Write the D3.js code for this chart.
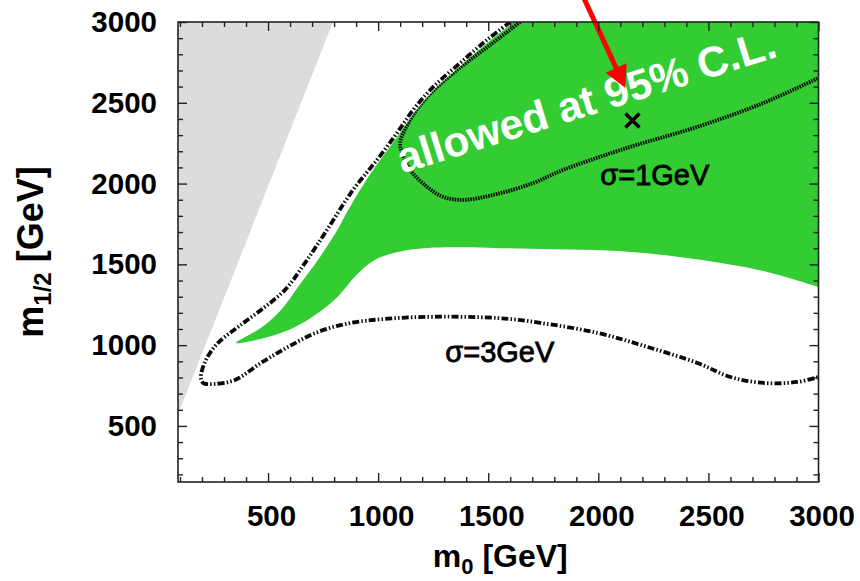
<!DOCTYPE html>
<html>
<head>
<meta charset="utf-8">
<script src="https://cdn.jsdelivr.net/npm/d3@7"></script>
<style>
  body { margin: 0; background: #fff; }
  svg { display: block; font-family: "Liberation Sans", Arial, Helvetica, sans-serif; }
</style>
</head>
<body>
<svg id="chart" width="860" height="581"></svg>
<script>
// Axes: m0 and m1/2, both in GeV
const xDomain = [91, 3000];
const yDomain = [153, 3000];
const xTickLabels = [500, 1000, 1500, 2000, 2500, 3000];
const yTickLabels = [500, 1000, 1500, 2000, 2500, 3000];
const minorStep = 100;

// Theoretically excluded wedge (upper left)
const excludedRegion = [[91, 3000], [795, 3000], [91, 570]];

// Allowed region at 95% C.L.: lower edge (right to left), then upper-left edge (tip to top)
const allowedLower = [
  [3000, 1360], [2768, 1453], [2463, 1528], [2145, 1577], [1691, 1596], [1227, 1602],
  [1091, 1577], [986, 1528], [900, 1432], [822, 1308], [727, 1199], [623, 1113],
  [500, 1051], [355, 1014]
];
const allowedUpper = [
  [468, 1107], [559, 1218], [636, 1360], [727, 1528], [809, 1701], [877, 1868],
  [941, 2010], [1009, 2147], [1095, 2314], [1168, 2456], [1259, 2598], [1382, 2747],
  [1505, 2890], [1614, 3000]
];

// Contour sigma = 3 GeV
const sigma3Contour = [
  [1600, 3000], [1495, 2890], [1373, 2747], [1250, 2598], [1159, 2456], [1086, 2314],
  [995, 2147], [886, 1961], [759, 1695], [668, 1509], [577, 1342], [468, 1218],
  [364, 1113], [273, 1014], [218, 909], [195, 803], [205, 766], [259, 760],
  [350, 785], [468, 890], [591, 989], [727, 1082], [877, 1138], [1032, 1162],
  [1214, 1175], [1541, 1168], [1736, 1138], [1995, 1076], [2223, 989], [2450, 890],
  [2600, 803], [2750, 766], [2904, 772], [3000, 803]
];

// Contour sigma = 1 GeV
const sigma1Contour = [
  [1645, 3000], [1509, 2858], [1359, 2704], [1223, 2537], [1145, 2394], [1100, 2252],
  [1109, 2190], [1145, 2085], [1223, 1979], [1295, 1918], [1386, 1899], [1541, 1936],
  [1705, 2004], [1841, 2085], [2145, 2227], [2450, 2351], [2750, 2499], [3000, 2654]
];

// Benchmark point and the arrow pointing at it
const benchmarkPoint = [2155, 2390];
const arrowFrom = [1932, 3155];
const arrowTo = [2123, 2592];

// Annotations
const annotations = [
  { text: "σ=1GeV", at: [2009, 1992] },
  { text: "σ=3GeV", at: [1305, 896] }
];
const allowedLabel = { text: "allowed at 95% C.L.", at: [1110, 2062], angle: -17.3 };

(function draw() {
  const svg = d3.select("#chart");
  const left = 178, right = 818.5, plotTop = 22, plotBottom = 482;

  const x = d3.scaleLinear().domain(xDomain).range([left, right]);
  const y = d3.scaleLinear().domain(yDomain).range([plotBottom, plotTop]);

  svg.append("clipPath").attr("id", "plot-clip")
    .append("rect").attr("x", left).attr("y", plotTop)
    .attr("width", right - left).attr("height", plotBottom - plotTop);

  const plot = svg.append("g").attr("clip-path", "url(#plot-clip)");

  // excluded wedge
  plot.append("path")
    .attr("d", d3.line().x(d => x(d[0])).y(d => y(d[1]))(excludedRegion) + "Z")
    .attr("fill", "#dcdcdc");

  // allowed region
  const smooth = d3.line().x(d => x(d[0])).y(d => y(d[1])).curve(d3.curveCatmullRom.alpha(0.5));
  const allowedPath = smooth(allowedLower.concat(allowedUpper)) +
    "L" + x(3000) + "," + y(3000) + "Z";
  plot.append("path").attr("d", allowedPath).attr("fill", "#33cc33");

  // sigma = 1 GeV contour (dense dots)
  plot.append("path")
    .attr("d", smooth(sigma1Contour))
    .attr("fill", "none").attr("stroke", "#0a0a0a")
    .attr("stroke-width", 3.8)
    .attr("stroke-dasharray", "1.6,1");

  // sigma = 3 GeV contour (dash-dot-dot) with a white halo
  plot.append("path")
    .attr("d", smooth(sigma3Contour))
    .attr("fill", "none").attr("stroke", "#fff")
    .attr("stroke-width", 5);
  plot.append("path")
    .attr("d", smooth(sigma3Contour))
    .attr("fill", "none").attr("stroke", "#0a0a0a")
    .attr("stroke-width", 3.8)
    .attr("stroke-dasharray", "7,2.2,1.5,2.2,1.5,2.2");

  // benchmark point
  const bx = x(benchmarkPoint[0]), by = y(benchmarkPoint[1]), bs = 7;
  plot.append("path")
    .attr("d", `M${bx - bs},${by - bs}L${bx + bs},${by + bs}M${bx - bs},${by + bs}L${bx + bs},${by - bs}`)
    .attr("stroke", "#000").attr("stroke-width", 3.5);

  // text annotations
  annotations.forEach(a => {
    svg.append("text")
      .attr("x", x(a.at[0])).attr("y", y(a.at[1]))
      .attr("font-size", 29).attr("fill", "#000")
      .attr("stroke", "#000").attr("stroke-width", 0.8)
      .text(a.text);
  });

  svg.append("text")
    .attr("transform", `translate(${x(allowedLabel.at[0])},${y(allowedLabel.at[1])}) rotate(${allowedLabel.angle})`)
    .attr("font-size", 42.5).attr("font-weight", "bold").attr("fill", "#fff")
    .text(allowedLabel.text);

  // arrow
  const ax0 = x(arrowFrom[0]), ay0 = y(arrowFrom[1]);
  const ax1 = x(arrowTo[0]), ay1 = y(arrowTo[1]);
  const len = Math.hypot(ax1 - ax0, ay1 - ay0);
  const ux = (ax1 - ax0) / len, uy = (ay1 - ay0) / len;
  const headLen = 22, headHalf = 11.5;
  const hx = ax1 - ux * headLen, hy = ay1 - uy * headLen;
  svg.append("line")
    .attr("x1", ax0).attr("y1", ay0).attr("x2", hx + ux * 2).attr("y2", hy + uy * 2)
    .attr("stroke", "#ff0000").attr("stroke-width", 5);
  svg.append("path")
    .attr("d", `M${ax1},${ay1}L${hx - uy * headHalf},${hy + ux * headHalf}L${hx + uy * headHalf},${hy - ux * headHalf}Z`)
    .attr("fill", "#ff0000");

  // axes: ticks point inward on all four sides
  const minorX = d3.range(100, 3001, minorStep).filter(v => !xTickLabels.includes(v));
  const minorY = d3.range(200, 3001, minorStep).filter(v => !yTickLabels.includes(v));

  function styleAxis(g) {
    g.select(".domain").remove();
    g.selectAll(".tick line").attr("stroke", "#222").attr("stroke-width", 1.4);
    g.selectAll("text").attr("font-size", 29.5).attr("font-weight", "bold").attr("fill", "#000")
      .attr("font-family", "Liberation Sans, Arial, Helvetica, sans-serif");
  }

  svg.append("g").attr("transform", `translate(0,${plotBottom})`)
    .call(d3.axisBottom(x).tickValues(xTickLabels).tickSize(-9).tickPadding(23).tickFormat(d3.format("d")))
    .call(styleAxis)
    .selectAll("text").attr("dx", 3);
  svg.append("g").attr("transform", `translate(0,${plotBottom})`)
    .call(d3.axisBottom(x).tickValues(minorX).tickSize(-5).tickFormat(""))
    .call(styleAxis);
  svg.append("g").attr("transform", `translate(0,${plotTop})`)
    .call(d3.axisTop(x).tickValues(xTickLabels).tickSize(-9).tickFormat(""))
    .call(styleAxis);
  svg.append("g").attr("transform", `translate(0,${plotTop})`)
    .call(d3.axisTop(x).tickValues(minorX).tickSize(-5).tickFormat(""))
    .call(styleAxis);

  svg.append("g").attr("transform", `translate(${left},0)`)
    .call(d3.axisLeft(y).tickValues(yTickLabels).tickSize(-9).tickPadding(21).tickFormat(d3.format("d")))
    .call(styleAxis);
  svg.append("g").attr("transform", `translate(${left},0)`)
    .call(d3.axisLeft(y).tickValues(minorY).tickSize(-5).tickFormat(""))
    .call(styleAxis);
  svg.append("g").attr("transform", `translate(${right},0)`)
    .call(d3.axisRight(y).tickValues(yTickLabels).tickSize(-9).tickFormat(""))
    .call(styleAxis);
  svg.append("g").attr("transform", `translate(${right},0)`)
    .call(d3.axisRight(y).tickValues(minorY).tickSize(-5).tickFormat(""))
    .call(styleAxis);

  // frame
  svg.append("rect")
    .attr("x", left).attr("y", plotTop).attr("width", right - left).attr("height", plotBottom - plotTop)
    .attr("fill", "none").attr("stroke", "#222").attr("stroke-width", 1.6);

  // axis titles
  const xTitle = svg.append("text")
    .attr("x", (left + right) / 2 + 2).attr("y", 567)
    .attr("text-anchor", "middle").attr("font-size", 32).attr("font-weight", "bold");
  xTitle.append("tspan").text("m");
  xTitle.append("tspan").attr("font-size", 22).attr("dy", 7).text("0");
  xTitle.append("tspan").attr("dy", -7).text(" [GeV]");

  const yTitle = svg.append("text")
    .attr("transform", `translate(43,${(plotTop + plotBottom) / 2}) rotate(-90)`)
    .attr("text-anchor", "middle").attr("font-size", 36).attr("font-weight", "bold");
  yTitle.append("tspan").text("m");
  yTitle.append("tspan").attr("font-size", 24).attr("dy", 8).text("1/2");
  yTitle.append("tspan").attr("dy", -8).text(" [GeV]");
})();
</script>
</body>
</html>
